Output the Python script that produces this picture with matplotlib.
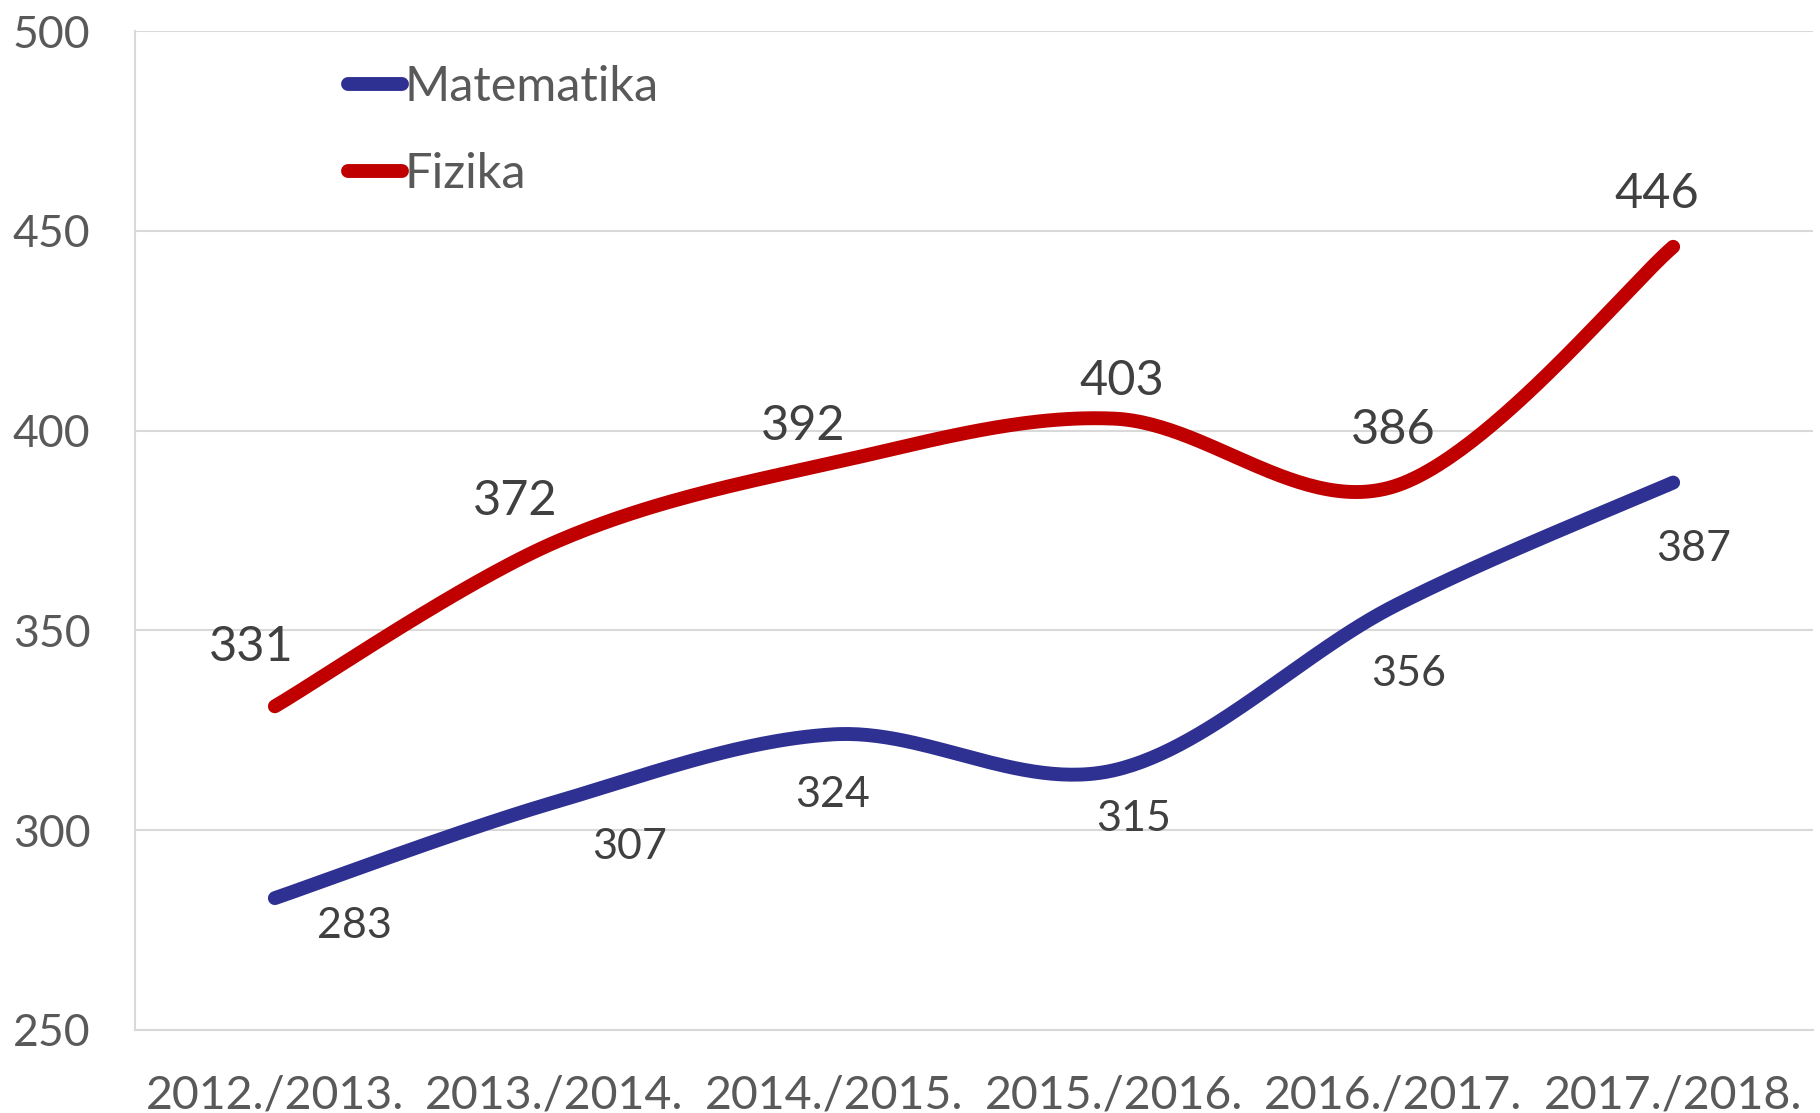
import numpy as np
import matplotlib
matplotlib.use("Agg")
import matplotlib.pyplot as plt

plt.rcParams['font.family'] = ['Lato', 'DejaVu Sans']

categories = ["2012./2013.", "2013./2014.", "2014./2015.", "2015./2016.", "2016./2017.", "2017./2018."]
matematika = [283, 307, 324, 315, 356, 387]
fizika = [331, 372, 392, 403, 386, 446]
series_names = ["Matematika", "Fizika"]

# label offsets in points (layout)
fiz_offsets = [(-17, 43), (-28, 30), (-22, 26), (6, 27), (0, 41), (-12, 38)]
mat_offsets = [(57, -20), (54, -32), (-1, -44), (14, -35), (11, -49), (15, -48)]

BLUE = "#2E3192"
RED = "#C00000"
GRID = "#D9D9D9"
TICK = "#595959"
LABEL = "#404040"


def smooth(xs, ys, n=60):
    pts = np.column_stack([xs, ys]).astype(float)
    out = []
    m = len(pts)
    for i in range(m - 1):
        p0 = pts[i - 1] if i > 0 else pts[i]
        p1 = pts[i]
        p2 = pts[i + 1]
        p3 = pts[i + 2] if i + 2 < m else pts[i + 1]
        c1 = p1 + (p2 - p0) / 6.0
        c2 = p2 - (p3 - p1) / 6.0
        t = np.linspace(0, 1, n)[:, None]
        seg = ((1 - t) ** 3) * p1 + 3 * ((1 - t) ** 2) * t * c1 + 3 * (1 - t) * t ** 2 * c2 + t ** 3 * p2
        out.append(seg if i == 0 else seg[1:])
    s = np.vstack(out)
    return s[:, 0], s[:, 1]


fig = plt.figure(figsize=(18.2, 11.13), dpi=100)
ax = fig.add_axes([135 / 1820, 1 - 1030 / 1113, 1678 / 1820, 999 / 1113])

x = np.arange(len(categories))
for vals, color, name in [(matematika, BLUE, series_names[0]), (fizika, RED, series_names[1])]:
    sx, sy = smooth(x, vals)
    ax.plot(sx, sy, color=color, lw=10, solid_capstyle='round', label=name, zorder=3)

for xi, v, off in zip(x, fizika, fiz_offsets):
    ax.annotate(str(v), (xi, v), xytext=off, textcoords='offset points',
                ha='center', va='center', fontsize=35, color=LABEL)
for xi, v, off in zip(x, matematika, mat_offsets):
    ax.annotate(str(v), (xi, v), xytext=off, textcoords='offset points',
                ha='center', va='center', fontsize=31, color=LABEL)

ax.set_xlim(-0.5, len(categories) - 0.5)
ax.set_ylim(250, 500)
ax.set_yticks(np.arange(250, 501, 50))
ax.set_xticks(x)
ax.set_xticklabels(categories)
ax.tick_params(axis='both', length=0, labelcolor=TICK)
ax.tick_params(axis='y', pad=32, labelsize=32)
ax.tick_params(axis='x', pad=32, labelsize=33.5)
ax.grid(axis='y', color=GRID, lw=1.5, zorder=0)
ax.set_axisbelow(True)
for s in ['top', 'right']:
    ax.spines[s].set_visible(False)
for s in ['left', 'bottom']:
    ax.spines[s].set_color(GRID)
    ax.spines[s].set_linewidth(1.5)

leg = ax.legend(loc='upper left', bbox_to_anchor=(0.101, 1.0096), frameon=False,
                fontsize=35, handlelength=1.1, handletextpad=0.05, labelspacing=0.88,
                labelcolor=TICK)

fig.savefig("out.png", dpi=100, facecolor='white')
